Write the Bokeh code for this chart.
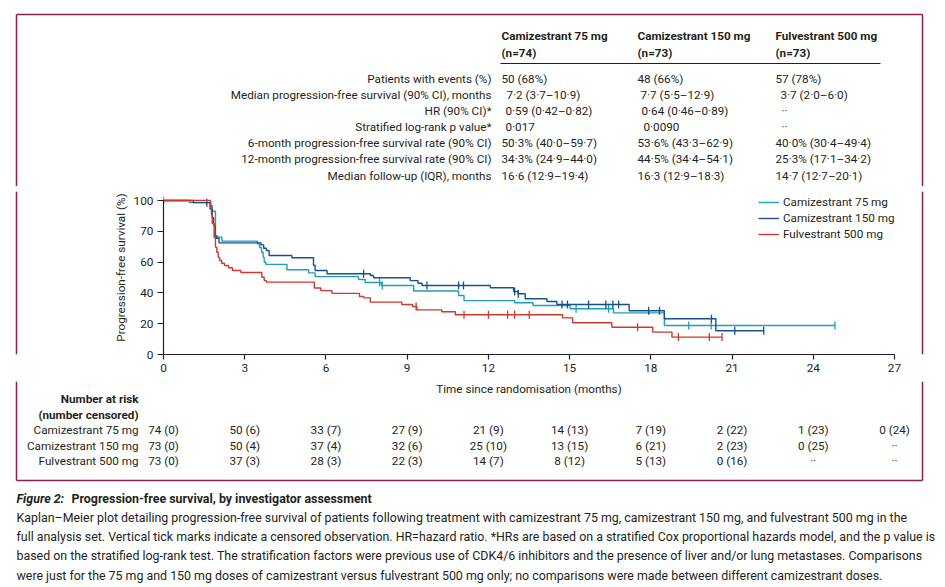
import numpy as np
from bokeh.plotting import figure
from bokeh.layouts import column, row
from bokeh.models import Label, Legend, LegendItem, Range1d, FixedTicker
from bokeh.embed import file_html
from bokeh.resources import INLINE

# ---------------- data ----------------
x_ticks = [0, 3, 6, 9, 12, 15, 18, 21, 24, 27]
y_ticks = [0, 20, 40, 60, 80, 100]
y_tick_overrides = {80: "70"}  # printed this way in the original figure

# Camizestrant 75 mg
t75 = [0, 0.96, 1.75, 1.8, 1.92, 2.0, 2.16, 3.47, 3.55, 3.62, 3.68, 3.72, 3.78, 4.56, 5.36, 5.6,
       7.2, 7.45, 8.05, 9.24, 10.9, 11.1, 12.97, 13.65, 15.02, 16.62, 18.5, 24.8]
s75 = [100, 98.65, 96.8, 93, 77, 76.2, 73.6, 71.9, 69.5, 66.4, 63.2, 60, 58.5, 55, 53, 50.6,
       48.7, 46.8, 44.8, 41.2, 38.3, 35, 33.6, 31.8, 29.7, 27.0, 18.8, 18.8]
cens75 = [7.98, 8.08, 15.24, 16.44, 19.4, 20.23, 24.8]

# Camizestrant 150 mg
t150 = [0, 1.1, 1.72, 1.8, 1.85, 1.9, 1.95, 2.05, 3.6, 3.7, 3.8, 3.9, 4.74, 5.54, 5.6, 6.04,
        7.64, 7.76, 9.11, 9.4, 9.55, 12.07, 12.93, 13.1, 13.36, 14.16, 14.53, 17.2, 18.5, 20.4, 22.17]
s150 = [100, 98.6, 94.5, 89, 84, 77, 75.5, 72.5, 71.2, 69, 67.5, 64.3, 62.8, 58, 54.5, 52.4,
        51.3, 49.8, 48, 46.3, 44.8, 43.3, 40.9, 39.4, 36.2, 34.4, 32.5, 28.4, 23.2, 15.4, 15.4]
cens150 = [0, 1.6, 7.39, 9.73, 10.9, 11.08, 12.97, 13.1, 14.72, 14.92, 15.7, 16.34, 16.6, 16.81,
           17.92, 18.32, 20.24, 21.1, 22.17]

# Fulvestrant 500 mg
tF = [0, 1.73, 1.77, 1.8, 1.87, 1.92, 1.97, 2.02, 2.07, 2.15, 2.25, 2.4, 2.55, 2.86, 3.63, 3.72,
      3.8, 5.57, 5.81, 6.22, 7.24, 7.4, 7.64, 8.8, 9.2, 9.36, 10.28, 10.78, 14.74, 15.11, 16.56,
      18.07, 18.78, 20.63]
sF = [100, 96, 91, 85, 76, 69.7, 66.4, 63.2, 61, 59.3, 57.8, 56.3, 54.5, 53.2, 50.2, 48,
      47, 43.2, 41.5, 39.7, 37.7, 36.8, 34, 32.5, 31.2, 29, 27.8, 25.8, 23.8, 20.6, 17.7,
      14.5, 11.3, 11.3]
censF = [9.33, 11.1, 12.0, 12.71, 12.97, 13.51, 17.51, 19.02, 20.16, 20.63]

series_names = ["Camizestrant 75 mg", "Camizestrant 150 mg", "Fulvestrant 500 mg"]
series_n = ["(n=74)", "(n=73)", "(n=73)"]

table_labels = ["Patients with events (%)",
                "Median progression-free survival (90% CI), months",
                "HR (90% CI)*",
                "Stratified log-rank p value*",
                "6-month progression-free survival rate (90% CI)",
                "12-month progression-free survival rate (90% CI)",
                "Median follow-up (IQR), months"]
table_75 = ["50 (68%)", "7·2 (3·7–10·9)", "0·59 (0·42–0·82)", "0·017",
            "50·3% (40·0–59·7)", "34·3% (24·9–44·0)", "16·6 (12·9–19·4)"]
table_150 = ["48 (66%)", "7·7 (5·5–12·9)", "0·64 (0·46–0·89)", "0·0090",
             "53·6% (43·3–62·9)", "44·5% (34·4–54·1)", "16·3 (12·9–18·3)"]
table_F = ["57 (78%)", "3·7 (2·0–6·0)", "··", "··",
           "40·0% (30·4–49·4)", "25·3% (17·1–34·2)", "14·7 (12·7–20·1)"]

risk_75 = ["74 (0)", "50 (6)", "33 (7)", "27 (9)", "21 (9)", "14 (13)", "7 (19)", "2 (22)", "1 (23)", "0 (24)"]
risk_150 = ["73 (0)", "50 (4)", "37 (4)", "32 (6)", "25 (10)", "13 (15)", "6 (21)", "2 (23)", "0 (25)", "··"]
risk_F = ["73 (0)", "37 (3)", "28 (3)", "22 (3)", "14 (7)", "8 (12)", "5 (13)", "0 (16)", "··", "··"]

x_title = "Time since randomisation (months)"
y_title = "Progression-free survival (%)"
caption_title_a = "Figure 2:"
caption_title_b = "Progression-free survival, by investigator assessment"
caption_lines = [
    "Kaplan–Meier plot detailing progression-free survival of patients following treatment with camizestrant 75 mg, camizestrant 150 mg, and fulvestrant 500 mg in the",
    "full analysis set. Vertical tick marks indicate a censored observation. HR=hazard ratio. *HRs are based on a stratified Cox proportional hazards model, and the p value is",
    "based on the stratified log-rank test. The stratification factors were previous use of CDK4/6 inhibitors and the presence of liver and/or lung metastases. Comparisons",
    "were just for the 75 mg and 150 mg doses of camizestrant versus fulvestrant 500 mg only; no comparisons were made between different camizestrant doses.",
]

# ---------------- style / layout ----------------
FONT = "Roboto"
FS = "11.7px"
FS_CAP = "12.4px"
TXT = "#231F20"
C75 = "#1E9FB8"
C150 = "#17508A"
CF = "#CC3A2E"
BOX = "#8C1F55"
BOX_W = 1.5

W, H = 945, 587
X0, XR = 163, 905            # plot frame left / right (page px)
XS = 731 / 27                # px per month
YS = 154 / 100               # px per percent
Y0 = 354                     # page y of 0 %
TOP_H = 186                  # height of upper text band
MID_B = 381                  # bottom of plot band
BOX_L, BOX_R, BOX_T, BOX_B = 16, 922, 14, 480


def blank(w, h, xr, yr):
    f = figure(width=w, height=h, output_backend="svg", toolbar_location=None, tools="",
               title=None, x_axis_type=None, y_axis_type=None, min_border=0,
               x_range=xr, y_range=yr)
    f.outline_line_color = None
    f.grid.visible = False
    return f


def txt(f, x, y, s, align="left", size=FS, style="normal", angle=0):
    f.add_layout(Label(x=x, y=y, text=s, text_align=align, text_baseline="middle",
                       text_font=FONT, text_font_size=size, text_font_style=style,
                       text_color=TXT, angle=angle))


# ---- top band: summary table ----
top = blank(W, TOP_H, Range1d(0, W), Range1d(TOP_H, 0))
top.segment(x0=[BOX_L, BOX_L, BOX_R], y0=[BOX_T, BOX_T, BOX_T], x1=[BOX_R, BOX_L, BOX_R],
            y1=[BOX_T, TOP_H, TOP_H], line_color=BOX, line_width=BOX_W)
col_x = [501, 637, 775]
for cx, name, n in zip(col_x, series_names, series_n):
    txt(top, cx, 35, name, style="bold")
    txt(top, cx, 52, n, style="bold")
top.segment(x0=[500], y0=[63], x1=[880], y1=[63], line_color=TXT, line_width=1)
row_y = [78, 94, 110, 126, 142.5, 158.5, 175]
offs = [[0, 5, 4, 4, 0, 0, 0], [0, 3, 4, 6, 0, 0, 0], [0, 5, 6, 6, 0, 0, 0]]
for i, (lab, ry) in enumerate(zip(table_labels, row_y)):
    txt(top, 491, ry, lab, align="right")
    for j, (cx, colv) in enumerate(zip(col_x, [table_75, table_150, table_F])):
        txt(top, cx + offs[j][i], ry, colv[i])

# ---- middle band: KM plot ----
LW = 128
left = blank(LW, MID_B - TOP_H, Range1d(0, LW), Range1d(MID_B, TOP_H))
left.segment(x0=[BOX_L], y0=[TOP_H], x1=[BOX_L], y1=[MID_B], line_color=BOX, line_width=BOX_W)
txt(left, 120, Y0 - 50 * YS, y_title, align="center", angle=np.pi / 2)

FW = XR - X0
FH = 163
p = figure(width=XR - LW, height=MID_B - TOP_H, output_backend="svg", toolbar_location=None,
           tools="", title=None, x_range=Range1d(0, FW / XS), y_range=Range1d(0, FH / YS),
           min_border_left=X0 - LW, min_border_right=0, min_border_top=Y0 - FH - TOP_H,
           min_border_bottom=MID_B - Y0)
p.outline_line_color = None
p.grid.visible = False
for ax in (p.xaxis[0], p.yaxis[0]):
    ax.axis_line_color = TXT
    ax.axis_line_width = 1.2
    ax.major_tick_line_color = TXT
    ax.major_tick_line_width = 1.2
    ax.minor_tick_line_color = None
    ax.major_tick_in = 0
    ax.major_label_text_font = FONT
    ax.major_label_text_font_size = "11.8px"
    ax.major_label_text_color = TXT
p.xaxis.ticker = FixedTicker(ticks=x_ticks)
p.xaxis.bounds = (0, 27)
p.xaxis.major_tick_out = 5
p.xaxis.major_label_standoff = 4
p.yaxis.ticker = FixedTicker(ticks=y_ticks)
p.yaxis.bounds = (0, 100)
p.yaxis.major_label_overrides = y_tick_overrides
p.yaxis.major_tick_out = 6
p.yaxis.major_label_standoff = 4


def surv_at(ts, ss, tc):
    idx = np.searchsorted(np.array(ts), np.array(tc), side="right") - 1
    return [ss[i] for i in idx]


renderers = []
for ts, ss, cs, colr in [(t75, s75, cens75, C75), (t150, s150, cens150, C150), (tF, sF, censF, CF)]:
    r = p.step(x=ts, y=ss, mode="after", line_color=colr, line_width=1.4)
    p.scatter(x=cs, y=surv_at(ts, ss, cs), marker="dash", angle=np.pi / 2, size=8,
              line_color=colr, line_width=1.3)
    renderers.append(r)

legend = Legend(items=[LegendItem(label=n, renderers=[r]) for n, r in zip(series_names, renderers)],
                location=(758 - X0, Y0 - 242), orientation="vertical",
                padding=0, margin=0, spacing=0, glyph_width=21, glyph_height=16,
                label_height=16, label_standoff=4, label_text_font=FONT,
                label_text_font_size=FS, label_text_color=TXT,
                border_line_color=None, background_fill_alpha=0)
p.add_layout(legend)

right = blank(W - XR, MID_B - TOP_H, Range1d(XR, W), Range1d(MID_B, TOP_H))
right.segment(x0=[BOX_R], y0=[TOP_H], x1=[BOX_R], y1=[MID_B], line_color=BOX, line_width=BOX_W)


# ---- bottom band: number at risk + caption (x in months) ----
def M(px):
    return (px - X0) / XS


bot = blank(W, H - MID_B, Range1d(M(0), M(W)), Range1d(H, MID_B))
bot.segment(x0=[M(BOX_L), M(BOX_R), M(BOX_L)], y0=[MID_B, MID_B, BOX_B],
            x1=[M(BOX_L), M(BOX_R), M(BOX_R)], y1=[BOX_B, BOX_B, BOX_B],
            line_color=BOX, line_width=BOX_W)
txt(bot, 13.5, 388, x_title, align="center")
txt(bot, M(138), 398, "Number at risk", align="right", style="bold")
txt(bot, M(138), 414, "(number censored)", align="right", style="bold")
for ry, name, risk in zip([429, 445, 460], series_names, [risk_75, risk_150, risk_F]):
    txt(bot, M(138), ry, name, align="right")
    for m, s in zip(x_ticks, risk):
        txt(bot, m, ry, s, align="center")

txt(bot, M(16), 498, caption_title_a, style="bold italic", size=FS_CAP)
txt(bot, M(71), 498, caption_title_b, style="bold", size=FS_CAP)
for k, line in enumerate(caption_lines):
    txt(bot, M(16), 517 + 19.2 * k, line, size=FS_CAP)

layout = column(top, row(left, p, right), bot)
open("out.html", "w").write(file_html(layout, INLINE))
